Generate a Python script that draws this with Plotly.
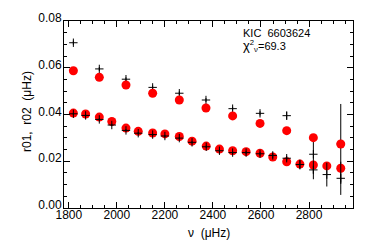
import plotly.graph_objects as go

# r02 (upper) series
nu02 = [1819, 1927, 2038, 2149, 2260, 2371, 2482, 2596, 2707, 2818, 2932]
r02_obs = [0.0707, 0.0595, 0.0551, 0.0516, 0.0491, 0.0462, 0.0425, 0.0405, 0.0395, 0.0230, 0.0274]
r02_err = [0.0009, 0.0008, 0.0008, 0.0008, 0.0008, 0.0008, 0.0008, 0.0009, 0.0017, 0.0082, 0.0171]
r02_mod = [0.0587, 0.0559, 0.0526, 0.0491, 0.0462, 0.0428, 0.0394, 0.0362, 0.0331, 0.0301, 0.0274]

# r01 (lower) series
nu01 = [1819, 1870, 1927, 1979, 2038, 2089, 2149, 2200, 2260, 2313, 2372,
        2427, 2482, 2538, 2596, 2649, 2707, 2762, 2818, 2874, 2932]
r01_obs = [0.0403, 0.0396, 0.0379, 0.0355, 0.0332, 0.0320, 0.0314, 0.0308, 0.0299, 0.0281, 0.0262,
           0.0245, 0.0237, 0.0237, 0.0232, 0.0225, 0.0213, 0.0186, 0.0163, 0.0143, 0.0127]
r01_err = [0.0005, 0.0005, 0.0005, 0.0005, 0.0005, 0.0005, 0.0005, 0.0005, 0.0005, 0.0005, 0.0006,
           0.0006, 0.0006, 0.0007, 0.0008, 0.0012, 0.0010, 0.0021, 0.0040, 0.0051, 0.0071]
r01_mod = [0.0406, 0.0402, 0.0389, 0.0370, 0.0342, 0.0328, 0.0321, 0.0317, 0.0306, 0.0286, 0.0265,
           0.0252, 0.0245, 0.0241, 0.0234, 0.0218, 0.0198, 0.0188, 0.0184, 0.0180, 0.0170]

FONT = "Liberation Sans, Arial, sans-serif"

W, H = 374, 249
L, R, T, B = 64, 21, 21, 41

fig = go.Figure()

cross = dict(symbol="cross-thin", size=6, color="black", line=dict(color="black", width=1))
def ebar(e):
    return dict(type="data", array=e, visible=True, color="black", thickness=1, width=0)

red = dict(symbol="circle", size=9, color="#ff0000", line=dict(width=0))

fig.add_trace(go.Scatter(x=nu02, y=r02_obs, mode="markers", marker=cross, error_y=ebar(r02_err),
                         cliponaxis=False, hoverinfo="skip"))
fig.add_trace(go.Scatter(x=nu02, y=r02_mod, mode="markers", marker=red, cliponaxis=False,
                         hoverinfo="skip"))
fig.add_trace(go.Scatter(x=nu01, y=r01_mod, mode="markers", marker=red, cliponaxis=False,
                         hoverinfo="skip"))
fig.add_trace(go.Scatter(x=nu01, y=r01_obs, mode="markers", marker=cross, error_y=ebar(r01_err),
                         cliponaxis=False, hoverinfo="skip"))

def px_to_paper(x, y):
    return (x - L) / (W - L - R), 1 - (y - T) / (H - T - B)

ax_, ay_ = px_to_paper(242, 33)
fig.add_annotation(x=ax_, y=ay_, xref="paper", yref="paper", text="KIC  6603624", showarrow=False,
                   xanchor="left", yanchor="middle", borderpad=0,
                   font=dict(family=FONT, size=11, color="black"))
bx_, by_ = px_to_paper(242, 46)
fig.add_annotation(x=bx_, y=by_, xref="paper", yref="paper",
                   text="<span style='font-size:13px'>χ</span><sup>2</sup><sub>ν</sub>=69.3",
                   showarrow=False, xanchor="left", yanchor="middle", borderpad=0,
                   font=dict(family=FONT, size=11, color="black"))
tx_, ty_ = px_to_paper(209, 233)
fig.add_annotation(x=0.5, y=ty_, xref="paper", yref="paper", text="ν  (μHz)", showarrow=False,
                   xanchor="center", yanchor="middle", borderpad=0,
                   font=dict(family=FONT, size=12, color="black"))
yx_, yy_ = px_to_paper(27, 112)
fig.add_annotation(x=yx_, y=yy_, xref="paper", yref="paper", text="r01,  r02  (μHz)", showarrow=False,
                   textangle=-90, xanchor="center", yanchor="middle", borderpad=0,
                   font=dict(family=FONT, size=12, color="black"))

axis_common = dict(showline=True, linecolor="black", linewidth=1, mirror="ticks",
                   ticks="inside", ticklen=6, tickwidth=1, tickcolor="black",
                   showgrid=False, zeroline=False, automargin=False,
                   tickfont=dict(family=FONT, size=12, color="black"))

fig.update_xaxes(range=[1780, 2983], tickvals=[1800, 2000, 2200, 2400, 2600, 2800],
                 ticklabelstandoff=-4,
                 minor=dict(dtick=50, tick0=1800, ticks="inside", ticklen=3, tickcolor="black", showgrid=False),
                 **axis_common)
fig.update_yaxes(range=[0, 0.08], tickvals=[0, 0.02, 0.04, 0.06, 0.08], tickformat=".2f",
                 ticklabelstandoff=-1, ticklabelshift=-3,
                 minor=dict(dtick=0.005, tick0=0, ticks="inside", ticklen=3, tickcolor="black", showgrid=False),
                 **axis_common)

fig.update_layout(width=W, height=H, margin=dict(l=L, r=R, t=T, b=B),
                  plot_bgcolor="white", paper_bgcolor="white", showlegend=False,
                  hovermode=False,
                  font=dict(family=FONT, size=12, color="black"))

fig.write_html("out.html", config={"displayModeBar": False, "staticPlot": True},
               post_script="document.body.style.margin='0';")
